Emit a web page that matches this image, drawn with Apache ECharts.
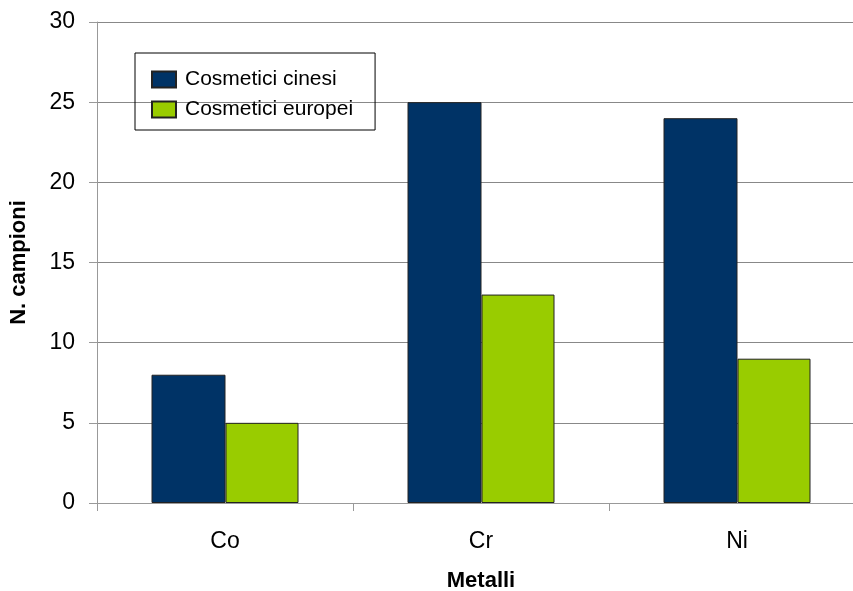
<!DOCTYPE html>
<html>
<head>
<meta charset="utf-8">
<script src="https://cdn.jsdelivr.net/npm/echarts@6/dist/echarts.min.js"></script>
<style>
  html, body { margin: 0; padding: 0; background: #fff; width: 853px; height: 591px; overflow: hidden; }
  /* the plot area runs past the right edge of the picture, so the canvas is a bit wider */
  #chart { width: 866px; height: 591px; }
</style>
</head>
<body>
<div id="chart"></div>
<script>
const categories = ['Co', 'Cr', 'Ni'];
const cinesi = [8, 25, 24];
const europei = [5, 13, 9];
const yTicks = [0, 5, 10, 15, 20, 25, 30];

const myChart = echarts.init(document.getElementById('chart'));
const font = 'Liberation Sans, Arial, sans-serif';

myChart.setOption({
  backgroundColor: '#fff',
  animation: false,
  textStyle: { fontFamily: font },
  legend: {
    orient: 'vertical',
    left: 135,
    top: 53,
    padding: [16, 22, 10, 16],
    itemGap: 9,
    itemWidth: 24,
    itemHeight: 16,
    icon: 'rect',
    borderColor: '#000',
    borderWidth: 1,
    textStyle: { fontSize: 21, color: '#000', fontFamily: font, padding: [0, 0, 0, 4] },
    data: ['Cosmetici cinesi', 'Cosmetici europei'],
  },
  grid: {
    left: 97,
    top: 22,
    width: 768,
    height: 481,
    outerBoundsMode: 'none',
  },
  xAxis: {
    type: 'category',
    data: categories,
    name: 'Metalli',
    nameLocation: 'middle',
    nameGap: 67,
    nameTextStyle: { fontSize: 22, fontWeight: 'bold', color: '#000', fontFamily: font },
    axisLine: { lineStyle: { color: '#999' } },
    axisTick: { show: true, length: 8, lineStyle: { color: '#999' } },
    axisLabel: { fontSize: 23, color: '#000', margin: 27 },
  },
  yAxis: {
    type: 'value',
    min: yTicks[0],
    max: yTicks[yTicks.length - 1],
    interval: 5,
    name: 'N. campioni',
    nameLocation: 'middle',
    nameGap: 67,
    nameRotate: 90,
    nameTextStyle: { fontSize: 22, fontWeight: 'bold', color: '#000', fontFamily: font },
    axisLine: { show: true, lineStyle: { color: '#999' } },
    axisTick: { show: true, length: 8, lineStyle: { color: '#999' } },
    axisLabel: { fontSize: 23, color: '#000', margin: 22 },
    splitLine: { lineStyle: { color: '#888' } },
  },
  series: [
    {
      name: 'Cosmetici cinesi',
      type: 'bar',
      data: cinesi,
      barWidth: 74,
      barGap: '0%',
      itemStyle: { color: '#003366', borderColor: '#222', borderWidth: 1 },
    },
    {
      name: 'Cosmetici europei',
      type: 'bar',
      data: europei,
      barWidth: 73,
      barGap: '0%',
      itemStyle: { color: '#99cc00', borderColor: '#222', borderWidth: 1 },
    },
  ],
});
</script>
</body>
</html>
